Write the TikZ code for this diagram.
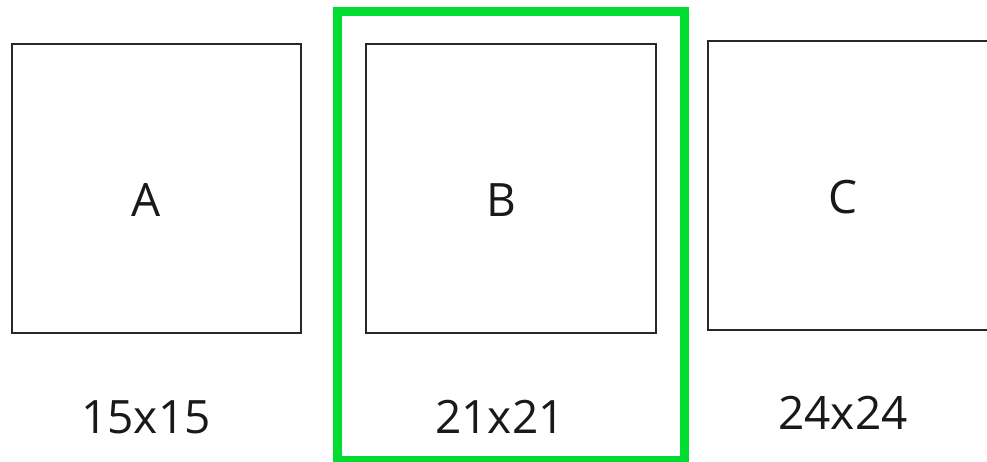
\documentclass[tikz,border=0pt]{standalone}
\usepackage{fontspec}
\setmainfont{Open Sans}
\definecolor{selgreen}{RGB}{0,221,48}
\definecolor{boxline}{RGB}{40,40,40}
\begin{document}
\begin{tikzpicture}[x=1pt,y=-1pt,
  sqbox/.style={draw=boxline,line width=1.8pt},
  sel/.style={draw=selgreen,line width=8.5pt},
  lbl/.style={font=\fontsize{46}{54}\selectfont,anchor=base,inner sep=0pt,text=black!90}]
\useasboundingbox (0,0) rectangle (987,462);
\clip (0,0) rectangle (987,462);
\fill[white] (0,0) rectangle (987,462);
\draw[sqbox] (12,44) rectangle (301,333);
\draw[sqbox] (366,44) rectangle (656,333);
\draw[sqbox] (708,41) rectangle (1000,330);
\draw[sel] (337.5,11.5) rectangle (684.5,460.5);
\node[lbl] (a) at (146,217) {A};
\node[lbl] (b) at (501,217) {B};
\node[lbl] (c) at (843,214) {C};
\node[lbl] (la) at (146,433) {15x15};
\node[lbl] (lb) at (500,433) {21x21};
\node[lbl] (lc) at (843,429) {24x24};
\end{tikzpicture}
\end{document}
